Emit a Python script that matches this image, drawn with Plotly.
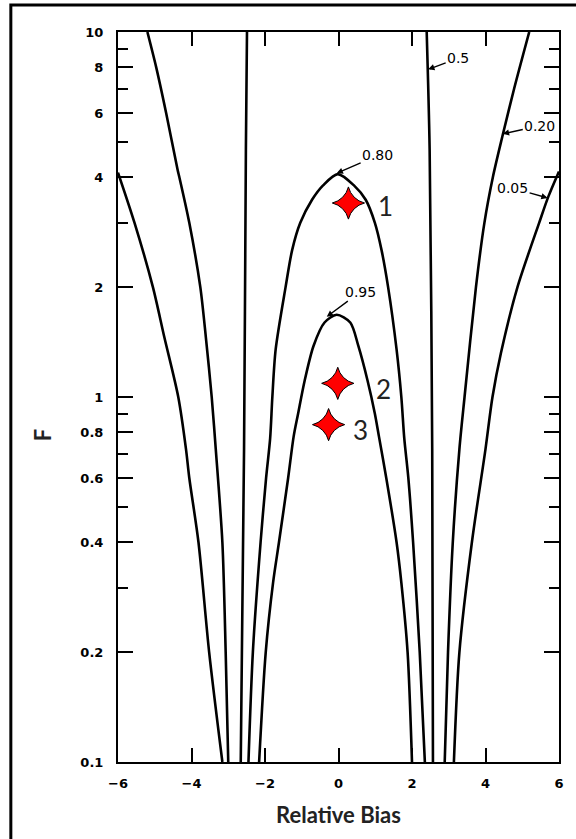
import numpy as np
import plotly.graph_objects as go

# contour 0.95 (arch, left foot -> peak -> right foot)
f_095 = [0.1, 0.2, 0.31, 0.4, 0.6, 0.78, 0.9, 1.11, 1.38, 1.6, 1.68, 1.6, 1.38, 1.11, 0.9, 0.78, 0.6, 0.4, 0.31, 0.2, 0.1]
x_095 = [-2.16, -1.98, -1.78, -1.62, -1.37, -1.22, -1.1, -0.92, -0.68, -0.38, -0.05, 0.32, 0.54, 0.79, 0.99, 1.1, 1.3, 1.58, 1.71, 1.88, 2.0]

# contour 0.80 (arch)
f_080 = [0.1, 0.2, 0.4, 0.6, 0.77, 1.0, 1.35, 2.0, 2.53, 3.0, 3.47, 3.8, 4.08, 3.8, 3.47, 3.0, 2.53, 2.0, 1.35, 1.0, 0.77, 0.6, 0.4, 0.2, 0.1]
x_080 = [-2.45, -2.33, -2.12, -1.97, -1.86, -1.8, -1.71, -1.44, -1.26, -1.04, -0.72, -0.42, -0.02, 0.42, 0.74, 0.99, 1.17, 1.35, 1.58, 1.71, 1.79, 1.9, 2.03, 2.21, 2.35]

# contour 0.5 (two nearly vertical lines)
f_05_l = [10, 4.76, 0.72, 0.1]
x_05_l = [-2.49, -2.52, -2.57, -2.66]
f_05_r = [10, 4.76, 0.72, 0.1]
x_05_r = [2.4, 2.48, 2.55, 2.57]

# contour 0.20
f_020_l = [10, 8, 6, 4.2, 4, 3, 2, 1.46, 1, 0.72, 0.4, 0.2, 0.1]
x_020_l = [-5.2, -4.96, -4.69, -4.38, -4.33, -4.06, -3.76, -3.61, -3.45, -3.34, -3.16, -3.07, -3.0]
f_020_r = [0.1, 0.2, 0.4, 0.72, 1, 2, 3, 4, 5.18, 7, 10]
x_020_r = [2.89, 2.98, 3.11, 3.29, 3.43, 3.74, 3.97, 4.2, 4.46, 4.78, 5.19]

# contour 0.05
f_005_l = [4.12, 3.0, 2.0, 1.46, 1.0, 0.72, 0.6, 0.4, 0.2, 0.1]
x_005_l = [-6.0, -5.55, -5.05, -4.74, -4.36, -4.15, -4.06, -3.81, -3.52, -3.16]
f_005_r = [0.1, 0.2, 0.4, 0.72, 1.0, 1.32, 2.0, 3.0, 3.54, 4.15]
x_005_r = [3.14, 3.29, 3.63, 4.0, 4.19, 4.42, 4.87, 5.46, 5.71, 6.0]

# points
pt_x = [0.27, -0.02, -0.27]
pt_f = [3.40, 1.09, 0.84]
pt_lab = ["1", "2", "3"]

y_ticks = [0.1, 0.2, 0.4, 0.6, 0.8, 1, 2, 4, 6, 8, 10]
y_ticktext = ["0.1", "0.2", "0.4", "0.6", "0.8", "1", "2", "4", "6", "8", "10"]
y_minor = [0.3, 0.5, 0.7, 0.9, 3, 5, 7, 9]
x_ticks = [-6, -4, -2, 0, 2, 4, 6]

fig = go.Figure()

curves = [(x_095, f_095), (x_080, f_080), (x_05_l, f_05_l), (x_05_r, f_05_r),
          (x_020_l, f_020_l), (x_020_r, f_020_r), (x_005_l, f_005_l), (x_005_r, f_005_r)]
for cx, cf in curves:
    fig.add_trace(go.Scatter(x=cx, y=cf, mode="lines",
                             line=dict(color="black", width=2.6, shape="spline", smoothing=0.8),
                             showlegend=False, hoverinfo="skip"))

fig.add_trace(go.Scatter(x=pt_x, y=pt_f, mode="markers",
                         marker=dict(symbol="star-diamond", size=23, color="#ff0000",
                                     line=dict(color="black", width=1)),
                         showlegend=False))

# labels for the contours (tip on curve, text offset in px)
contour_labels = [
    ("0.80", -0.05, 4.1, 41, -18),
    ("0.95", -0.32, 1.66, 34, -25),
    ("0.5", 2.44, 7.9, 30, -11),
    ("0.20", 4.47, 5.26, 37, -8),
    ("0.05", 5.69, 3.51, -35, -10),
]
for txt, ax_, f_, dx, dy in contour_labels:
    fig.add_annotation(x=ax_, y=np.log10(f_), text=txt, showarrow=True,
                       ax=dx, ay=dy, arrowhead=2, arrowsize=0.9, arrowwidth=1.4,
                       arrowcolor="black", standoff=0,
                       font=dict(family="DejaVu Sans", size=14, color="black"))

# point numbers
shifts = [(37, -3), (46, -6), (32, -5)]
for px_, pf_, lab, (sx, sy) in zip(pt_x, pt_f, pt_lab, shifts):
    fig.add_annotation(x=px_, y=np.log10(pf_), text=lab, showarrow=False,
                       xshift=sx, yshift=sy,
                       font=dict(family="Lato", size=26, color="#222"))

# y-axis title
fig.add_annotation(xref="paper", yref="paper", x=-0.171, y=0.447, text="F",
                   xanchor="center", yanchor="middle",
                   showarrow=False, textangle=-90,
                   font=dict(family="Lato", size=22, color="#222", weight="bold"))

# outer frame
fig.add_shape(type="rect", xref="paper", yref="paper", x0=-0.243, x1=1.06, y0=-0.13, y1=1.037,
              line=dict(color="black", width=3))

tick_font = dict(family="DejaVu Sans", size=13, color="black", weight="bold")

fig.update_layout(
    width=576, height=839,
    margin=dict(l=118, r=14, t=32, b=77),
    plot_bgcolor="white", paper_bgcolor="white",
    xaxis=dict(range=[-6, 6], tickvals=x_ticks, ticktext=["\u22126", "\u22124", "\u22122", "0", "2", "4", "6"],
               ticks="inside", ticklen=14, tickwidth=2, tickcolor="black",
               showline=True, linecolor="black", linewidth=2, mirror="ticks",
               showgrid=False, zeroline=False, ticklabelstandoff=8,
               tickfont=tick_font,
               title=dict(text="Relative Bias", standoff=18,
                          font=dict(family="Lato", size=22, color="#222", weight="bold"))),
    yaxis=dict(type="log", range=[-1, 1], tickvals=y_ticks, ticktext=y_ticktext,
               ticks="inside", ticklen=15, tickwidth=2, tickcolor="black",
               minor=dict(tickvals=y_minor, ticks="inside", ticklen=10, tickwidth=2, tickcolor="black"),
               showline=True, linecolor="black", linewidth=2, mirror="ticks",
               showgrid=False, zeroline=False, ticklabelstandoff=10,
               tickfont=tick_font),
)

fig.write_html("out.html", config={"displayModeBar": False},
               post_script="document.body.style.margin='0';")
